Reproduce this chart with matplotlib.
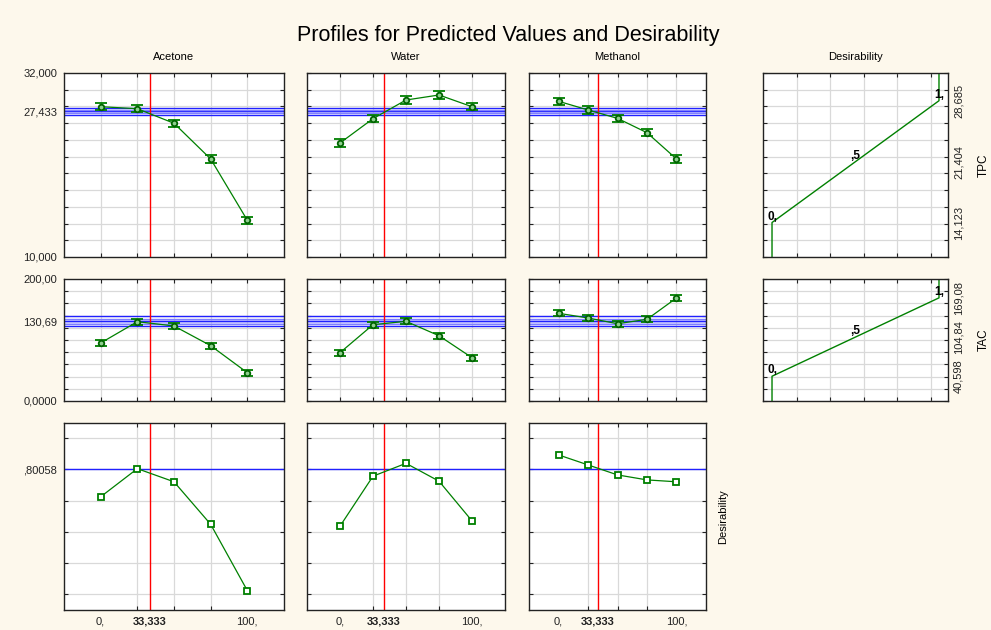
import numpy as np
import matplotlib
matplotlib.use("Agg")
import matplotlib.pyplot as plt

plt.rcParams['font.family'] = ['Liberation Sans', 'DejaVu Sans']

# factor levels (% of each solvent) and current setting
levels = [0, 25, 50, 75, 100]
current_x = 33.333
solvents = ["Acetone", "Water", "Methanol"]

# predicted TPC per solvent level
tpc_acetone = [27.97, 27.73, 25.99, 21.72, 14.39]
tpc_water = [23.63, 26.54, 28.77, 29.37, 27.97]
tpc_methanol = [28.62, 27.58, 26.58, 24.86, 21.72]
tpc_err = 0.45
tpc_pred = 27.433
tpc_ci = 0.4

# predicted TAC per solvent level
tac_acetone = [95.1, 130.0, 123.0, 90.7, 46.4]
tac_water = [79.2, 125.1, 130.6, 107.0, 71.0]
tac_methanol = [143.8, 136.1, 126.7, 133.9, 168.9]
tac_err = 5.0
tac_pred = 130.69
tac_ci = 8.0

# overall desirability per solvent level
des_acetone = [0.712, 0.802, 0.760, 0.624, 0.412]
des_water = [0.618, 0.778, 0.819, 0.762, 0.635]
des_methanol = [0.846, 0.814, 0.782, 0.766, 0.760]
des_pred = 0.80058

# desirability functions: response value at d = 0, .5, 1
tpc_dfun = [14.123, 21.404, 28.685]
tac_dfun = [40.598, 104.84, 169.08]
tpc_dfun_text = ["14,123", "21,404", "28,685"]
tac_dfun_text = ["40,598", "104,84", "169,08"]
dfun_labels = ["0,", ",5", "1,"]

W, H = 991, 630
BG = "#fdf8ec"
GREEN = "#008000"
DKGREEN = "#006400"
GRID = "#d9d9d9"
FS = 8

fig = plt.figure(figsize=(W / 100, H / 100), dpi=100, facecolor=BG)


def panel(x0, x1, y0, y1):
    ax = fig.add_axes([x0 / W, 1 - y1 / H, (x1 - x0) / W, (y1 - y0) / H])
    ax.set_facecolor("white")
    for s in ax.spines.values():
        s.set_linewidth(1.0)
        s.set_color("#222222")
    ax.tick_params(which="both", direction="in", length=3, width=0.8,
                   top=True, right=True, labelsize=FS, colors="#222222")
    ax.grid(which="minor", color=GRID, linewidth=0.9)
    ax.set_axisbelow(True)
    return ax


cols = [(64, 284), (307, 505), (529, 706)]
dcol = (763, 948)
rows = [(73, 257), (279, 401), (423, 610)]

row_cfg = [
    dict(data=[tpc_acetone, tpc_water, tpc_methanol], err=tpc_err,
         lim=(10, 32), grid=np.arange(10, 33, 2), pred=tpc_pred, ci=tpc_ci,
         yt=[10, tpc_pred, 32], ytl=["10,000", "27,433", "32,000"]),
    dict(data=[tac_acetone, tac_water, tac_methanol], err=tac_err,
         lim=(0, 200), grid=np.arange(0, 201, 20), pred=tac_pred, ci=tac_ci,
         yt=[0, tac_pred, 200], ytl=["0,0000", "130,69", "200,00"]),
    dict(data=[des_acetone, des_water, des_methanol], err=None,
         lim=(0.35, 0.948), grid=np.arange(0.4, 0.95, 0.1), pred=des_pred,
         ci=None, yt=[des_pred], ytl=[",80058"]),
]

for r, cfg in enumerate(row_cfg):
    y0, y1 = rows[r]
    for c, (x0, x1) in enumerate(cols):
        ax = panel(x0, x1, y0, y1)
        ax.set_xlim(-25, 125)
        ax.set_ylim(*cfg["lim"])
        ax.set_xticks(levels, minor=True)
        ax.set_yticks(cfg["grid"], minor=True)
        if r == 2:
            ax.set_xticks([0, current_x, 100])
            ax.set_xticklabels(["0,", "33,333", "100,"])
            ax.get_xticklabels()[1].set_fontweight("bold")
            ax.tick_params(axis="x", which="major", length=0, pad=5)
        else:
            ax.set_xticks([])
        if c == 0:
            ax.set_yticks(cfg["yt"])
            ax.set_yticklabels(cfg["ytl"])
            ax.tick_params(axis="y", which="major", length=0, pad=5)
        else:
            ax.set_yticks([])
        if r == 0:
            ax.set_title(solvents[c], fontsize=FS, pad=9)

        # current prediction and its confidence band
        p = cfg["pred"]
        if cfg["ci"] is not None:
            ci = cfg["ci"]
            ax.axhspan(p - ci * 0.5, p + ci * 0.5, color="#a0a0ff", alpha=0.5, lw=0)
            for off in np.linspace(-ci, ci, 5):
                col = "#2020ff" if abs(off) in (0, ci) else "#8080ff"
                ax.axhline(p + off, color=col, linewidth=1.0)
        else:
            ax.axhline(p, color="#2020ff", linewidth=1.0)
        ax.axvline(current_x, color="red", linewidth=1.0)

        vals = cfg["data"][c]
        if cfg["err"] is not None:
            ax.plot(levels, vals, color=GREEN, linewidth=0.9, zorder=3)
            ax.errorbar(levels, vals, yerr=cfg["err"], fmt="o", ms=4,
                        mfc="#8fcf8f", mec=DKGREEN, mew=1.3, ecolor=GREEN,
                        elinewidth=1.0, capsize=4, capthick=1.0, zorder=4)
        else:
            ax.plot(levels, vals, color=GREEN, linewidth=0.9, marker="s",
                    ms=4, mfc="white", mec=GREEN, mew=1.3, zorder=4)

# desirability function panels (TPC, TAC)
dxlim = (-0.054, 1.054)
dgrid = [0.15, 0.35, 0.55, 0.75, 0.95]
dpanels = [("TPC", tpc_dfun, tpc_dfun_text, row_cfg[0]),
           ("TAC", tac_dfun, tac_dfun_text, row_cfg[1])]
for r, (name, dfun, dtext, cfg) in enumerate(dpanels):
    y0, y1 = rows[r]
    ax = panel(dcol[0], dcol[1], y0, y1)
    ax.set_xlim(*dxlim)
    ax.set_ylim(*cfg["lim"])
    ax.set_xticks(dgrid, minor=True)
    ax.set_xticks([])
    ax.set_yticks(cfg["grid"], minor=True)
    ax.yaxis.tick_right()
    ax.tick_params(which="both", left=True, right=True)
    ax.set_yticks(dfun)
    ax.set_yticklabels(dtext, rotation=90, va="center")
    ax.tick_params(axis="y", which="major", length=0, pad=4, labelsize=FS)
    lo, hi = cfg["lim"]
    dx = [0, 0, 0.5, 1, 1]
    dy = [lo, dfun[0], dfun[1], dfun[2], hi]
    ax.plot(dx, dy, color=GREEN, linewidth=1.0)
    for d, v, t in zip([0, 0.5, 1], dfun, dfun_labels):
        ax.text(d, v, t, ha="center", va="bottom", fontsize=8.5,
                fontweight="bold")
    ax.yaxis.set_label_position("right")
    ax.set_ylabel(name, fontsize=FS + 0.5, labelpad=10)
    if r == 0:
        ax.set_title("Desirability", fontsize=FS, pad=9)

fig.text(723 / W, 1 - 517 / H, "Desirability", rotation=90, fontsize=FS,
         ha="center", va="center")
fig.suptitle("Profiles for Predicted Values and Desirability", fontsize=15.5,
             x=508 / W, y=1 - 35 / H, va="center")

fig.savefig("out.png", dpi=100, facecolor=BG)
